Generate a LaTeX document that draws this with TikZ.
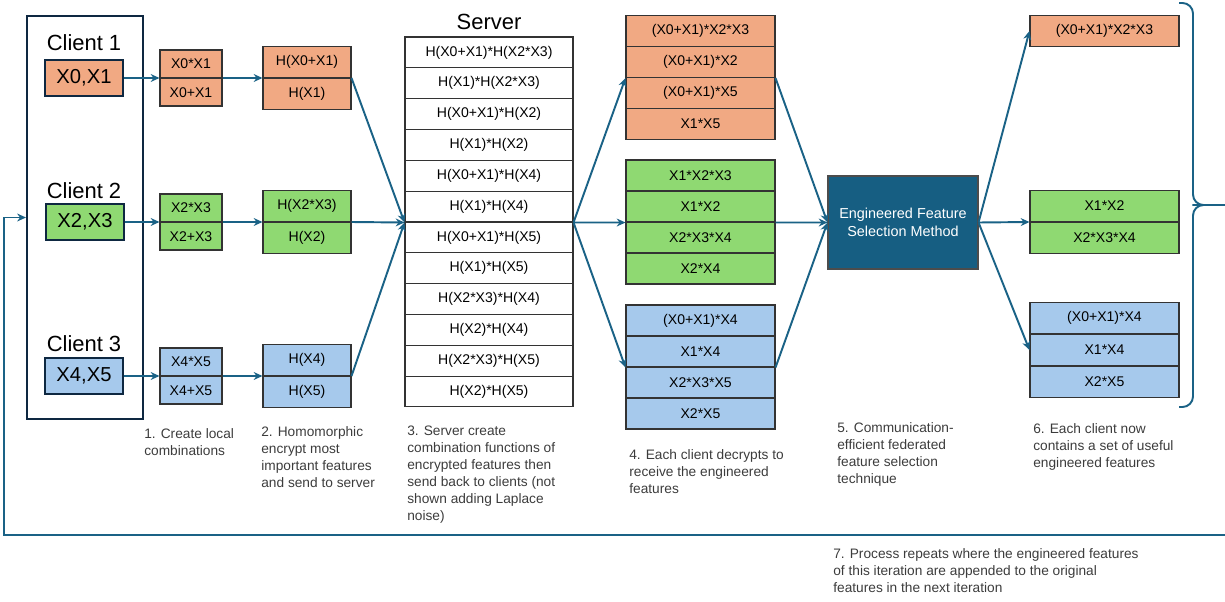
\documentclass[tikz,border=0pt]{standalone}
\usepackage{fontspec}
\setmainfont{Liberation Sans}
\usetikzlibrary{arrows.meta,positioning}
\definecolor{featOrange}{RGB}{241,169,131}
\definecolor{featGreen}{RGB}{143,217,114}
\definecolor{featBlue}{RGB}{166,201,236}
\definecolor{methodBlue}{RGB}{22,94,130}
\definecolor{linkBlue}{RGB}{26,98,134}
\definecolor{frameBlue}{RGB}{14,40,65}
\definecolor{noteGray}{RGB}{60,60,60}
\tikzset{
  cell/.style={draw=black!80, line width=0.6pt, inner sep=0pt, font=\fontsize{8}{9}\selectfont},
  cellA/.style={cell, minimum width=1.24cm, minimum height=0.55cm},
  cellB/.style={cell, minimum width=1.76cm, minimum height=0.62cm},
  srvcell/.style={cell, fill=white, minimum width=3.36cm, minimum height=0.6167cm},
  cellC/.style={cell, minimum width=2.98cm, minimum height=0.62cm},
  inbox/.style={draw=frameBlue, line width=1.2pt, inner sep=0pt, minimum width=1.56cm, minimum height=0.72cm, font=\fontsize{11.5}{13}\selectfont},
  headlabel/.style={inner sep=0pt, font=\fontsize{12.5}{14}\selectfont},
  note/.style={align=left, anchor=north west, inner sep=0pt, text=noteGray, font=\fontsize{7.8}{9.65}\selectfont},
  link/.style={draw=linkBlue, line width=1.1pt, -{Stealth[length=5pt,width=4.5pt]}},
}
\begin{document}
\begin{tikzpicture}[x=0.02cm,y=-0.02cm]
    \useasboundingbox (0,0) rectangle (1225,602);
    \node[draw=frameBlue, line width=1.2pt, minimum width=2.32cm, minimum height=8.06cm] (clients) at (85,217.5) {};
    \node[headlabel] (lab1) at (84,43) {Client 1};
    \node[inbox, fill=featOrange] (in1) at (84,78) {X0,X1};
    \node[headlabel] (lab2) at (84,191) {Client 2};
    \node[inbox, fill=featGreen] (in2) at (85,222) {X2,X3};
    \node[headlabel] (lab3) at (84,344) {Client 3};
    \node[inbox, fill=featBlue] (in3) at (84,376) {X4,X5};

    \node[cellA, fill=featOrange, anchor=south] (oa1) at (191,78) {X0*X1};
    \node[cellA, fill=featOrange, below=0pt of oa1] (oa2) {X0+X1};
    \node[cellA, fill=featGreen, anchor=south] (ga1) at (191,222) {X2*X3};
    \node[cellA, fill=featGreen, below=0pt of ga1] (ga2) {X2+X3};
    \node[cellA, fill=featBlue, anchor=south] (ba1) at (191,376) {X4*X5};
    \node[cellA, fill=featBlue, below=0pt of ba1] (ba2) {X4+X5};

    \node[cellB, fill=featOrange, anchor=south] (oh1) at (307,78) {H(X0+X1)};
    \node[cellB, fill=featOrange, below=0pt of oh1] (oh2) {H(X1)};
    \node[cellB, fill=featGreen, anchor=south] (gh1) at (307,222) {H(X2*X3)};
    \node[cellB, fill=featGreen, below=0pt of gh1] (gh2) {H(X2)};
    \node[cellB, fill=featBlue, anchor=south] (bh1) at (307,376) {H(X4)};
    \node[cellB, fill=featBlue, below=0pt of bh1] (bh2) {H(X5)};

    \node[headlabel] (srvlab) at (489,22) {Server};
    \foreach \t [count=\i] in {H(X0+X1)*H(X2*X3), H(X1)*H(X2*X3), H(X0+X1)*H(X2), H(X1)*H(X2), H(X0+X1)*H(X4), H(X1)*H(X4), H(X0+X1)*H(X5), H(X1)*H(X5), H(X2*X3)*H(X4), H(X2)*H(X4), H(X2*X3)*H(X5), H(X2)*H(X5)}
        \node[srvcell] (sv\i) at (489,{37+30.83*(\i-0.5)}) {\t};

    \foreach \t [count=\i] in {(X0+X1)*X2*X3, (X0+X1)*X2, (X0+X1)*X5, X1*X5}
        \node[cellC, fill=featOrange] (od\i) at (700.5,{15.5+31*(\i-0.5)}) {\t};
    \foreach \t [count=\i] in {X1*X2*X3, X1*X2, X2*X3*X4, X2*X4}
        \node[cellC, fill=featGreen] (gd\i) at (700.5,{160+31*(\i-0.5)}) {\t};
    \foreach \t [count=\i] in {(X0+X1)*X4, X1*X4, X2*X3*X5, X2*X5}
        \node[cellC, fill=featBlue] (bd\i) at (700.5,{305+31*(\i-0.5)}) {\t};

    \node[draw=black!70, line width=0.6pt, fill=methodBlue, text=white, minimum width=3cm, minimum height=1.86cm, align=center, font=\fontsize{8.2}{10.5}\selectfont] (esm) at (903,222.5) {Engineered Feature\\Selection Method};

    \node[cellC, fill=featOrange] (of1) at (1104.5,31) {(X0+X1)*X2*X3};
    \node[cellC, fill=featGreen, anchor=south] (gf1) at (1104.5,222) {X1*X2};
    \node[cellC, fill=featGreen, below=0pt of gf1] (gf2) {X2*X3*X4};
    \node[cellC, fill=featBlue, anchor=north] (bf1) at (1104.5,302) {(X0+X1)*X4};
    \node[cellC, fill=featBlue, below=0pt of bf1] (bf2) {X1*X4};
    \node[cellC, fill=featBlue, below=0pt of bf2] (bf3) {X2*X5};

    \draw[link] (in1.east) -- (oa1.south west);
    \draw[link] (in2.east) -- (ga1.south west);
    \draw[link] (in3.east) -- (ba1.south west);
    \draw[link] (oa1.south east) -- (oh1.south west);
    \draw[link] (ga1.south east) -- (gh1.south west);
    \draw[link] (ba1.south east) -- (bh1.south west);
    \draw[link] (oh1.south east) -- (sv6.south west);
    \draw[link] (gh1.south east) -- (sv6.south west);
    \draw[link] (bh1.south east) -- (sv6.south west);
    \draw[link] (sv6.south east) -- (od2.south west);
    \draw[link] (sv6.south east) -- (gd2.south west);
    \draw[link] (sv6.south east) -- (bd2.south west);
    \draw[link] (od2.south east) -- (esm.west);
    \draw[link] (gd2.south east) -- (esm.west);
    \draw[link] (bd2.south east) -- (esm.west);
    \draw[link] (esm.east) -- (of1.west);
    \draw[link] (esm.east) -- (gf1.south west);
    \draw[link] (esm.east) -- (bf2.west);

    \coordinate (braceTop) at (1179,3);
    \coordinate (braceBot) at (1179,407);
    \coordinate (braceTip) at (1203,205);
    \coordinate (loopR) at (1225,535);
    \coordinate (loopL) at (4,535);
    \draw[linkBlue, line width=1.1pt, rounded corners=6] (braceTop) -- (1193,3) -- (1193,205) -- (braceTip);
    \draw[linkBlue, line width=1.1pt, rounded corners=6] (braceBot) -- (1193,407) -- (1193,205) -- (braceTip) -- (1225,205);
    \draw[link] (loopR) -- (loopL) |- (clients.west);

    \node[note] (note1) at (144,428) {1. Create local\\combinations};
    \node[note] (note2) at (261,426) {2. Homomorphic\\encrypt most\\important features\\and send to server};
    \node[note] (note3) at (407,426) {3. Server create\\combination functions of\\encrypted features then\\send back to clients (not\\shown adding Laplace\\noise)};
    \node[note] (note4) at (629,449) {4. Each client decrypts to\\receive the engineered\\features};
    \node[note] (note5) at (837,422) {5. Communication-\\efficient federated\\feature selection\\technique};
    \node[note] (note6) at (1033,423) {6. Each client now\\contains a set of useful\\engineered features};
    \node[note] (note7) at (833,548) {7. Process repeats where the engineered features\\of this iteration are appended to the original\\features in the next iteration};
\end{tikzpicture}
\end{document}
